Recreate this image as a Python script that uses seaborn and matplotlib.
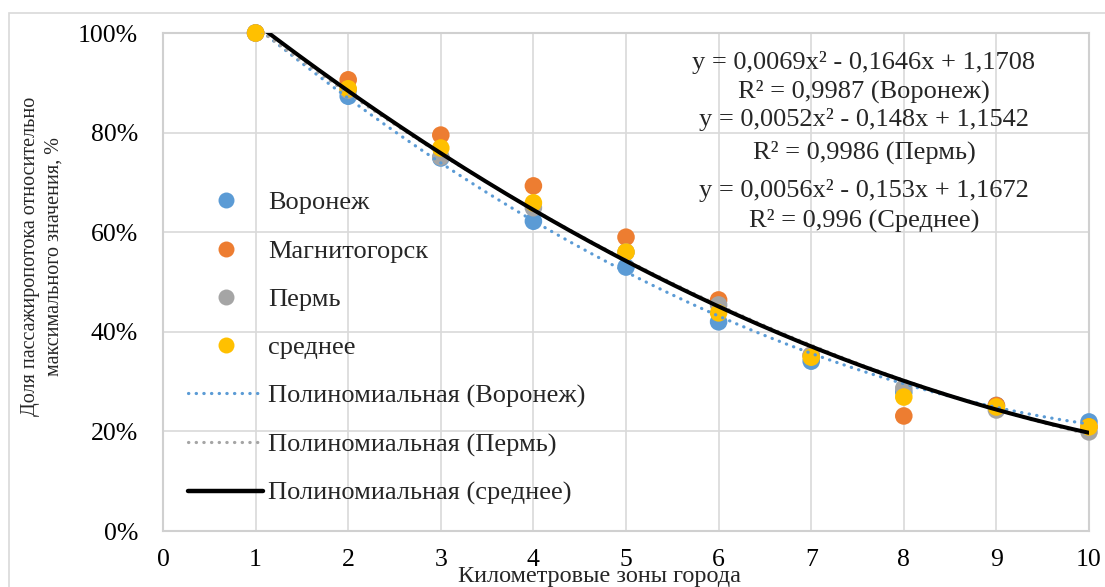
import numpy as np
import pandas as pd
import matplotlib
matplotlib.use("Agg")
import matplotlib.pyplot as plt
from matplotlib.lines import Line2D
from matplotlib.patches import Rectangle
import seaborn as sns

# ---- data ----
zones = [1, 2, 3, 4, 5, 6, 7, 8, 9, 10]
voronezh = [1.00, 0.873, 0.749, 0.622, 0.530, 0.420, 0.341, 0.279, 0.252, 0.219]
magnitogorsk = [1.00, 0.906, 0.795, 0.693, 0.590, 0.464, 0.353, 0.231, 0.252, 0.209]
perm = [1.00, 0.885, 0.751, 0.649, 0.560, 0.454, 0.353, 0.287, 0.243, 0.199]
average = [1.00, 0.888, 0.769, 0.659, 0.560, 0.438, 0.349, 0.269, 0.249, 0.209]

series_names = ["Воронеж", "Магнитогорск", "Пермь", "среднее"]
series_colors = ["#5B9BD5", "#ED7D31", "#A5A5A5", "#FFC000"]

# polynomial trend coefficients (as shown on chart)
coef_voronezh = [0.0069, -0.1646, 1.1708]
coef_perm = [0.0052, -0.148, 1.1542]
coef_average = [0.0056, -0.153, 1.1672]

eq_lines = [
    "y = 0,0069x² - 0,1646x + 1,1708",
    "R² = 0,9987 (Воронеж)",
    "y = 0,0052x² - 0,148x + 1,1542",
    "R² = 0,9986 (Пермь)",
    "y = 0,0056x² - 0,153x + 1,1672",
    "R² = 0,996 (Среднее)",
]

x_ticks = [0, 1, 2, 3, 4, 5, 6, 7, 8, 9, 10]
y_ticks = [0, 0.2, 0.4, 0.6, 0.8, 1.0]
y_ticklabels = ["0%", "20%", "40%", "60%", "80%", "100%"]
x_label = "Километровые зоны города"
y_label = "Доля пассажиропотока относительно\nмаксимального значения, %"

# ---- figure ----
sns.set_theme(style="white")
plt.rcParams["font.family"] = ["Liberation Serif", "DejaVu Serif"]

W, H = 1105, 587
fig = plt.figure(figsize=(W / 100, H / 100), dpi=100)
ax = fig.add_axes([163 / W, 1 - 531 / H, (1089 - 163) / W, (531 - 33) / H])

# figure border
fig.patches.append(Rectangle((9 / W, -0.05), 1.2, 1 - 13 / H + 0.05, transform=fig.transFigure,
                             fill=False, edgecolor="#D9D9D9", linewidth=1.2, zorder=0))

df = pd.DataFrame({
    "zone": zones * 4,
    "value": voronezh + magnitogorsk + perm + average,
    "series": sum([[n] * len(zones) for n in series_names], []),
})

sns.scatterplot(data=df, x="zone", y="value", hue="series", hue_order=series_names,
                palette=series_colors, s=160, linewidth=0, legend=False, ax=ax, zorder=3,
                clip_on=False)

xs = np.linspace(zones[0], zones[-1], 200)
trend_df = pd.DataFrame({
    "x": np.concatenate([xs, xs, xs]),
    "y": np.concatenate([np.polyval(coef_voronezh, xs), np.polyval(coef_perm, xs),
                         np.polyval(coef_average, xs)]),
    "trend": ["v"] * len(xs) + ["p"] * len(xs) + ["a"] * len(xs),
})
dot = (0, (0.1, 2.3))
sns.lineplot(data=trend_df[trend_df.trend == "v"], x="x", y="y", color="#5B9BD5",
             lw=2.3, ax=ax, zorder=4, legend=False, estimator=None)
ax.lines[-1].set_linestyle(dot)
ax.lines[-1].set_dash_capstyle("round")
sns.lineplot(data=trend_df[trend_df.trend == "p"], x="x", y="y", color="#A5A5A5",
             lw=2.3, ax=ax, zorder=4, legend=False, estimator=None)
ax.lines[-1].set_linestyle(dot)
ax.lines[-1].set_dash_capstyle("round")
sns.lineplot(data=trend_df[trend_df.trend == "a"], x="x", y="y", color="black",
             lw=2.9, ax=ax, zorder=5, legend=False, estimator=None)

ax.set_xlim(0, 10)
ax.set_ylim(0, 1.0)
ax.set_xticks(x_ticks)
ax.set_yticks(y_ticks)
ax.set_yticklabels(y_ticklabels)
ax.tick_params(axis="both", length=0, labelsize=18.5, colors="black")
ax.tick_params(axis="y", pad=18)
ax.tick_params(axis="x", pad=13)
ax.grid(True, color="#D9D9D9", linewidth=1.2)
ax.set_axisbelow(True)
for s in ax.spines.values():
    s.set_visible(True)
    s.set_color("#D0D0D0")
    s.set_linewidth(1.5)
ax.set_xlabel("")
ax.set_ylabel("")

fig.text(600 / W, 1 - 582 / H, x_label, ha="center", va="baseline", fontsize=17.5)
fig.text(42 / W, 1 - 256 / H, y_label, ha="center", va="center", rotation=90,
         fontsize=14.5, multialignment="center", linespacing=1.3)

eq_y = [62, 91, 120, 152, 190, 220]
for t, yy in zip(eq_lines, eq_y):
    fig.text(864 / W, 1 - yy / H, t, ha="center", va="center", fontsize=19)

handles = [Line2D([], [], marker="o", linestyle="none", markersize=11.5,
                  markerfacecolor=c, markeredgewidth=0) for c in series_colors]
handles += [
    Line2D([], [], color="#5B9BD5", lw=2.3, linestyle=dot, dash_capstyle="round"),
    Line2D([], [], color="#A5A5A5", lw=2.3, linestyle=dot, dash_capstyle="round"),
    Line2D([], [], color="black", lw=3.2),
]
labels = series_names + ["Полиномиальная (Воронеж)", "Полиномиальная (Пермь)",
                         "Полиномиальная (среднее)"]
leg = ax.legend(handles, labels, loc="upper left",
                bbox_to_anchor=(188 / W, 1 - 191 / H), bbox_transform=fig.transFigure,
                frameon=False, fontsize=19, handlelength=2.85, handletextpad=0.2,
                labelspacing=0.94, borderpad=0, borderaxespad=0)

fig.savefig("out.png", dpi=100)
